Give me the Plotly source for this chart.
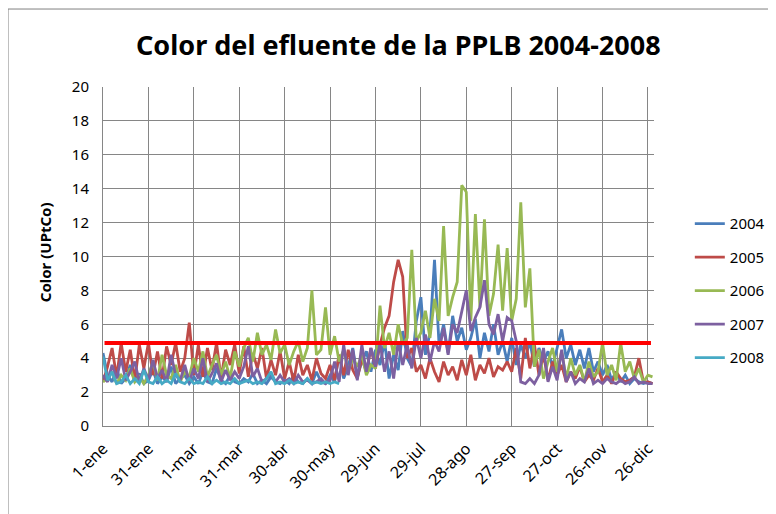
import plotly.graph_objects as go

# day of year (0 = 1-ene), one sample every 3 days
days = list(range(0, 364, 3))

tick_days = [0, 30, 60, 90, 120, 150, 180, 210, 240, 270, 300, 330, 360]
tick_labels = ['1-ene', '31-ene', '1-mar', '31-mar', '30-abr', '30-may', '29-jun',
               '29-jul', '28-ago', '27-sep', '27-oct', '26-nov', '26-dic']

c2004 = [4.3, 3.0, 2.6, 3.4, 2.5, 2.8, 3.6, 2.6, 3.1, 2.5,
         2.7, 3.3, 2.5, 2.9, 2.6, 3.5, 2.5, 2.8, 3.0, 2.5,
         2.9, 2.5, 3.2, 2.6, 2.5, 3.4, 2.7, 2.5, 3.0, 2.6,
         2.5, 2.8, 2.6, 3.1, 2.5, 2.7, 2.5, 2.9, 2.6, 2.5,
         2.7, 2.5, 3.0, 2.6, 2.5, 2.8, 2.5, 3.2, 2.6, 2.5,
         3.0, 2.6, 4.2, 2.8, 3.5, 4.6, 2.9, 3.8, 4.4, 3.2,
         4.5, 3.6, 5.0, 2.8, 4.2, 3.3, 5.6, 4.0, 3.5, 6.2,
         7.6, 4.2, 5.5, 9.8, 4.8, 6.0, 4.3, 6.5, 5.0, 5.8,
         4.5, 5.2, 6.3, 4.0, 5.5, 4.4, 6.0, 4.2, 5.0, 3.8,
         5.2, 3.6, 4.8, 4.0, 5.0, 3.5, 4.6, 3.8, 4.4, 3.5,
         4.6, 5.7, 4.0, 4.8, 3.6, 4.5, 3.4, 4.6, 3.2, 3.8,
         3.0, 3.6, 2.7, 3.2, 2.6, 3.0, 2.5, 2.8, 2.6, 2.5,
         2.6, 2.5]

c2005 = [2.6, 3.5, 4.6, 2.9, 4.9, 3.2, 4.5, 2.7, 4.8, 3.4,
         4.9, 3.0, 4.4, 2.8, 4.7, 3.6, 4.9, 3.2, 4.0, 6.1,
         3.0, 4.8, 2.9, 4.6, 3.3, 4.9, 2.8, 4.5, 3.6, 4.8,
         3.1, 4.7, 2.9, 4.3, 3.4, 4.6, 2.8, 3.9, 3.0, 4.4,
         2.8, 3.8, 2.6, 4.2, 3.0, 3.6, 2.7, 4.0, 3.1, 2.8,
         3.6, 2.7, 4.2, 3.0, 4.5, 3.3, 2.8, 4.0, 3.2, 4.6,
         3.4, 4.8, 5.8, 6.5, 8.5, 9.8, 8.8, 4.0, 4.6, 3.2,
         3.6, 2.8, 4.0, 3.2, 2.6, 3.8, 3.0, 3.5, 2.7, 3.9,
         3.0, 4.2, 2.7, 3.6, 3.1, 4.0, 2.9, 3.5, 3.3, 3.8,
         3.2, 4.6, 2.8, 5.2, 3.4, 4.8, 3.0, 4.2, 2.7, 3.8,
         3.0, 3.6, 2.6, 3.2, 2.8, 3.5, 2.6, 3.0, 2.7, 3.4,
         2.6, 3.0, 2.5, 3.2, 2.8, 2.6, 2.7, 2.9, 4.0, 2.6,
         2.6, 2.5]

c2006 = [2.6, 2.8, 3.2, 2.5, 3.0, 2.7, 3.4, 2.6, 2.9, 2.5,
         3.0, 3.8, 2.7, 4.2, 3.0, 2.8, 3.6, 2.6, 3.2, 2.9,
         4.0, 3.2, 4.4, 2.9, 3.6, 4.2, 3.0, 3.8, 2.8, 4.4,
         3.5, 4.6, 5.2, 3.8, 5.5, 4.2, 4.8, 3.9, 5.7, 4.3,
         4.8, 3.6, 4.4, 5.0, 3.8, 4.6, 8.0, 4.2, 4.5, 7.0,
         4.2, 5.3, 3.8, 4.5, 3.2, 4.0, 3.5, 4.2, 3.0, 3.6,
         3.4, 7.1, 4.6, 5.5, 4.2, 6.0, 4.8, 5.2, 10.4, 5.0,
         5.5, 6.8, 5.2, 7.5, 6.2, 11.8, 6.5, 7.6, 8.5, 14.2,
         13.8, 6.2, 12.5, 7.0, 12.2, 6.5, 7.8, 10.7, 6.8, 10.5,
         6.2, 7.5, 13.2, 7.0, 9.3, 3.5, 4.5, 2.8, 3.8, 4.6,
         3.2, 4.4, 2.8, 4.0, 3.0, 3.6, 2.6, 3.8, 2.9, 3.2,
         4.9, 3.0, 3.6, 2.7, 4.9, 3.2, 3.8, 2.8, 3.4, 2.6,
         3.0, 2.9]

c2007 = [3.0, 2.6, 3.6, 2.8, 4.0, 2.7, 3.2, 3.8, 2.6, 3.4,
         2.7, 3.9, 2.8, 3.3, 2.6, 4.2, 3.0, 2.7, 3.6, 2.6,
         3.4, 2.8, 4.0, 2.6, 3.1, 3.7, 2.6, 3.3, 2.7, 3.2,
         2.8, 3.5, 4.7, 2.9, 3.4, 2.6, 2.8, 3.1, 2.6, 3.0,
         2.6, 2.8, 2.5, 3.0, 2.6, 2.7, 2.5, 2.6, 2.8, 2.5,
         2.7, 3.8, 2.6, 4.8, 3.0, 4.5, 2.7, 4.8, 3.2, 4.6,
         3.5, 4.9, 3.2, 4.4, 2.8, 5.0, 3.6, 4.8, 3.4, 5.2,
         4.0, 5.4, 3.8, 5.0, 4.4, 5.8, 4.2, 6.0, 5.5, 6.8,
         8.0, 5.6, 6.4, 7.0, 8.6, 6.0, 5.4, 6.6, 5.0, 6.4,
         6.2, 5.0, 2.6, 2.5, 2.8, 2.5, 3.0, 4.6, 2.6, 3.5,
         2.7, 4.5, 2.6, 3.2, 2.5, 2.8, 2.6, 3.4, 2.5, 2.7,
         2.5, 2.8, 2.6, 2.5, 2.7, 2.5, 2.6, 2.9, 2.5, 2.6,
         2.5, 2.5]

c2008 = [4.1, 2.7, 3.2, 2.5, 2.6, 3.0, 2.5, 2.8, 2.5, 3.3,
         2.6, 2.5, 2.9, 2.5, 2.7, 2.5, 3.1, 2.6, 2.5, 2.8,
         2.5, 2.6, 2.5, 2.9, 2.5, 2.7, 2.5, 2.6, 2.5, 2.8,
         2.5, 2.6, 2.7, 2.5, 2.6, 2.5, 2.8, 3.2, 2.5, 2.6,
         2.5, 2.7, 2.5, 2.6, 2.5, 2.8, 2.5, 2.6, 2.5, 2.6,
         2.5, 2.6, 2.5]

# limit line (UPtCo)
limit_days = [1, 362]
limit_value = [4.9, 4.9]

series = [('2004', c2004, '#4A7EBB'), ('2005', c2005, '#BE4B48'),
          ('2006', c2006, '#98B954'), ('2007', c2007, '#7D60A0'),
          ('2008', c2008, '#46AAC5')]

fig = go.Figure()
for name, vals, col in series:
    fig.add_trace(go.Scatter(x=days[:len(vals)], y=vals, name=name, mode='lines',
                             line=dict(color=col, width=2.8), legendgroup=name))

fig.add_trace(go.Scatter(x=limit_days, y=limit_value, mode='lines', showlegend=False,
                         line=dict(color='#FF0000', width=4)))

# the page body adds an 8px offset, so margins are set 8px smaller on left/top
font = 'Noto Sans, Liberation Sans, sans-serif'
fig.update_layout(
    width=776, height=514,
    margin=dict(l=95, r=130, t=79, b=96, autoexpand=False),
    paper_bgcolor='white', plot_bgcolor='white',
    font=dict(family=font, size=13, color='#000000'),
    showlegend=True,
    legend=dict(x=1.065, y=0.645, xanchor='left', yanchor='top', font=dict(size=15),
                tracegroupgap=11, bgcolor='rgba(0,0,0,0)'),
    xaxis=dict(range=[0, 364], tickvals=tick_days, ticktext=tick_labels, tickangle=-45,
               showgrid=True, gridcolor='#868686', gridwidth=1, zeroline=False,
               showline=True, linecolor='#868686', ticks='', tickfont=dict(size=16),
               ticklabelstandoff=6, automargin=False),
    yaxis=dict(range=[0, 20], dtick=2, showgrid=True, gridcolor='#868686', gridwidth=1,
               zeroline=False, showline=True, linecolor='#868686', ticks='',
               tickfont=dict(size=15), ticklabelstandoff=10, automargin=False),
    annotations=[
        dict(text='<b>Color del efluente de la PPLB 2004-2008</b>', xref='paper', yref='paper',
             x=0.537, y=1.125, xanchor='center', yanchor='middle', showarrow=False,
             font=dict(size=27, family=font)),
        dict(text='<b>Color (UPtCo)</b>', xref='paper', yref='paper', x=-0.105, y=0.513,
             xanchor='center', yanchor='middle', textangle=-90, showarrow=False,
             font=dict(size=15, family=font)),
    ],
    shapes=[dict(type='rect', xref='paper', yref='paper', x0=-0.1724, x1=1.3, y0=-0.3, y1=1.23,
                 line=dict(color='#808080', width=1))],
)

fig.write_html("out.html")
